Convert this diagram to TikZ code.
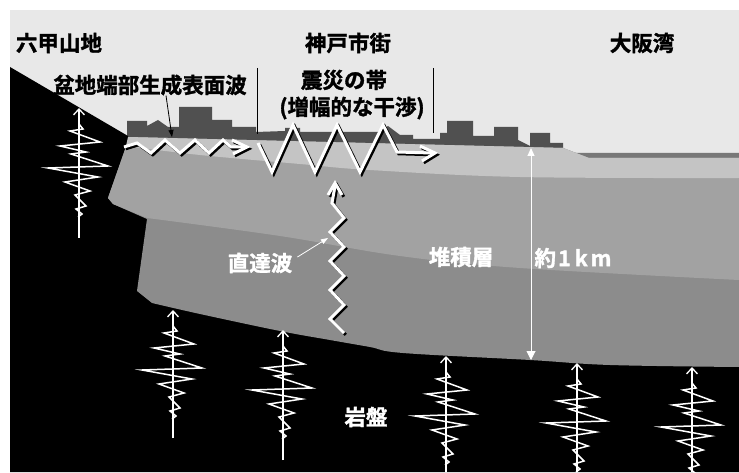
\documentclass[tikz,border=0pt]{standalone}
\usepackage{fontspec}
\newfontfamily\jp{Noto Sans CJK JP}[BoldFont={* Bold}, BoldFeatures={FakeBold=1.6}]
\usetikzlibrary{arrows.meta,calc}
\definecolor{sky}{HTML}{E8E8E8}
\definecolor{bldg}{HTML}{505050}
\definecolor{sea}{HTML}{787878}
\definecolor{sedtop}{HTML}{C4C4C4}
\definecolor{sedmid}{HTML}{A2A2A2}
\definecolor{sedlow}{HTML}{8C8C8C}
\begin{document}
\begin{tikzpicture}[x=1pt,y=-1pt,
  lbl/.style={font=\jp\bfseries\fontsize{21.5}{24}\selectfont, inner sep=0pt},
  lblw/.style={lbl, text=white},
  wavepen/.style={line width=3pt, line join=miter, miter limit=10},
  seisaxis/.style={white, line width=1.3pt,
    -{Straight Barb[length=6pt,width=11pt,line width=1.3pt]}},
  seistrace/.style={white, line width=1.5pt, line join=miter},
  thinptr/.style={line width=0.8pt, -{Triangle[length=7pt,width=5pt]}},
  seismo/.pic={
    \draw[seistrace] (0,0) -- (4,5) -- (-9,7) -- (21,18) -- (-19,22) -- (7,28)
      -- (-8,30) -- (29,42) -- (-31,44) -- (19,53) -- (-14,58) -- (11,67)
      -- (-4,71) -- (7,82) -- (-3,85) -- (3,90) -- (-1,93);
  }]
\useasboundingbox (0,0) rectangle (739,473);

% sky
\fill[sky] (10,10) rectangle (739,472);

% town skyline
\fill[bldg] (127,152) -- (127,121) -- (147,121) -- (147,126) -- (158,120)
  -- (168,127) -- (179,127) -- (179,107) -- (212,107) -- (212,120) -- (232,120)
  -- (232,127) -- (256,127) -- (256,132) -- (285,131) -- (285,128) -- (300,128)
  -- (300,132) -- (378,132) -- (388,126) -- (400,135) -- (413,135) -- (413,139)
  -- (440,139) -- (440,133) -- (447,133) -- (447,121) -- (473,121) -- (473,136)
  -- (494,136) -- (494,127) -- (518,127) -- (518,140) -- (530,146) -- (530,133)
  -- (550,133) -- (550,143) -- (563,143) -- (563,152) -- cycle;

% sea water
\fill[sea] (575,153) -- (739,153) -- (739,160) -- (589,160) -- cycle;

% bedrock and mountains
\fill[black] (10,67) -- (128,136) -- (128,200) -- (739,200) -- (739,472)
  -- (10,472) -- cycle;

% sediment: lower part
\fill[sedlow] (128,137) -- (563,148) -- (589,158) -- (739,158) -- (739,367)
  -- plot[smooth, tension=0.6] coordinates {(739,367) (610,365) (530,360)
     (403,353) (370,347) (330,340) (280,331) (200,314) (152,303)}
  -- (137,291) -- (147,219) -- (113,204) -- (108,198) -- (128,141) -- cycle;
% sediment: middle part
\fill[sedmid] (128,137) -- (563,148) -- (589,158) -- (739,158) -- (739,280)
  -- plot[smooth, tension=0.6] coordinates {(739,280) (520,268) (400,256)
     (280,236) (147,218)}
  -- (113,204) -- (108,198) -- (128,141) -- cycle;
% sediment: surface part
\fill[sedtop] (126,146) -- (128,137) -- (563,148) -- (589,158) -- (739,158)
  -- (739,178)
  -- plot[smooth, tension=0.6] coordinates {(739,178) (520,177) (370,170)
     (300,164) (200,155) (126,146)} -- cycle;

% band markers
\draw[black, line width=0.8pt] (257,68) -- (257,134);
\draw[black, line width=0.8pt] (433,68) -- (433,133);

% seismograms
\foreach \sx/\st/\sb in {79/108/238, 173/310/438, 283/330/460,
                         446/356/472, 577/363/472, 692/367/472} {
  \draw[seisaxis] (\sx,\sb) -- (\sx,\st);
  \pic at (\sx,\st+16) {seismo};
}

% waves: black shadow first, then white
\foreach \c/\d in {black/1.8, white/0} {
  \begin{scope}[shift={(\d,\d)}]
    % surface wave from the basin edge
    \draw[wavepen, \c] (124,147) -- (137,143) -- (151,153) -- (165,140)
      -- (180,153) -- (195,140) -- (209,153) -- (223,140) -- (231,147) -- (246,147);
    \draw[wavepen, \c] (232,140) -- (247,147) -- (233,154);
    % amplified interference
    \draw[wavepen, \c] (258,143) -- (272,172) -- (293,125) -- (315,172)
      -- (337,125) -- (360,172) -- (383,125) -- (397,152) -- (432,153);
    \draw[wavepen, \c] (420,146) -- (435,153) -- (422,161);
    % direct wave
    \draw[wavepen, \c] (344,333) -- (330,319) -- (344,305) -- (330,290)
      -- (344,276) -- (330,261) -- (344,247) -- (330,232) -- (344,218)
      -- (332,203) -- (335,186);
    \draw[wavepen, \c] (328,195) -- (335,183) -- (342,195);
  \end{scope}
}

% labels
\node[lbl]  (rokko)   at (59,43)   {六甲山地};
\node[lbl]  (kobe)    at (348,43)  {神戸市街};
\node[lbl]  (osaka)   at (642,43)  {大阪湾};
\node[lbl]  (bonchi)  at (150,85)  {盆地端部生成表面波};
\node[lbl]  (shinsai) at (344,80)  {震災の帯};
\node[lbl]  (zofuku)  at (352,108) {(増幅的な干渉)};
\node[lblw] (direct)  at (260,263) {直達波};
\node[lblw] (taiseki) at (461,257) {堆積層};
\node[lblw] (depth)   at (573,258) {約\hspace{2pt}1\hspace{4pt}k\hspace{3pt}m};
\node[lblw] (ganban)  at (366,417) {岩盤};

% pointers
\coordinate (swhit) at (172,137);
\draw[thinptr, black] ([xshift=16pt]bonchi.south) -- (swhit);
\coordinate (dwhit) at (328,238);
\draw[thinptr, white] ([shift={(5pt,6pt)}]direct.east) -- (dwhit);

% sediment thickness
\coordinate (dimtop) at (531,148);
\coordinate (dimbot) at (531,360);
\draw[white, line width=1pt,
  {Triangle[length=8pt,width=7pt]}-{Triangle[length=9pt,width=9pt]}]
  (dimtop) -- (dimbot);
\end{tikzpicture}
\end{document}
